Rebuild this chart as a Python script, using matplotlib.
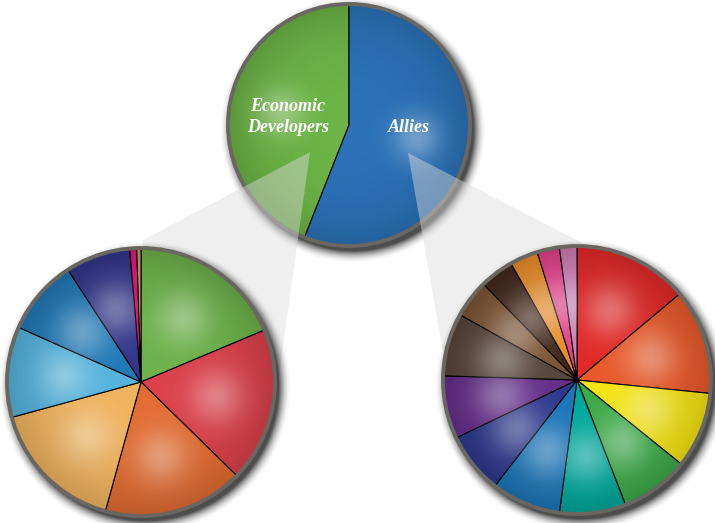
import numpy as np
import matplotlib
matplotlib.use("Agg")
import matplotlib.pyplot as plt
from matplotlib.patches import Circle, Polygon

# ---------------- data ----------------
top_labels = ["Economic\nDevelopers", "Allies"]
top_values = [44, 56]
top_colors = ["#6cb446", "#2b72b8"]

left_values = [18.6, 18.6, 16.9, 16.4, 10.9, 9.1, 7.8, 0.85, 0.5]
left_colors = ["#6db24c", "#dc424b", "#e26d34", "#f0b460", "#55b3dc",
               "#2179b6", "#343689", "#e3197f", "#c9a06d"]

right_values = [13.9, 12.7, 9.2, 8.3, 8.0, 8.4, 7.4, 7.6, 7.6, 4.6, 4.1, 3.4, 2.7, 2.1]
right_colors = ["#e12a28", "#e85a2b", "#f4e314", "#3daa49", "#00a89c", "#1c76b9",
                "#2f3a8c", "#652f8a", "#57463c", "#7d5434", "#43281b", "#e88d28",
                "#e5408b", "#cd7db3"]

# ---------------- layout ----------------
W, H = 715, 523
fig = plt.figure(figsize=(7.15, 5.23), dpi=100)
ax = fig.add_axes([0, 0, 1, 1])
ax.axis("off")

TOP = (349, 398, 121)
LEFT = (141, 141, 134)
RIGHT = (577, 143, 134)


def shadow(cx, cy, r, z, dx=4, dy=-5, blur=13, amp=0.7):
    ext = r + blur + 10
    n = 400
    xs = np.linspace(cx - ext, cx + ext, n)
    ys = np.linspace(cy - ext, cy + ext, n)
    X, Y = np.meshgrid(xs, ys)
    d = np.hypot(X - (cx + dx), Y - (cy + dy))
    a = amp * np.clip((r + blur - d) / blur, 0, 1) ** 2
    img = np.zeros((n, n, 4))
    img[..., 3] = a
    ax.imshow(img, extent=(cx - ext, cx + ext, cy - ext, cy + ext), origin="lower",
              zorder=z, interpolation="bilinear")


def gloss(wedges, cx, cy, r, z, frac=0.58, sigma=0.2, amp=0.35):
    n = 300
    xs = np.linspace(cx - r, cx + r, n)
    ys = np.linspace(cy - r, cy + r, n)
    X, Y = np.meshgrid(xs, ys)
    for w in wedges:
        if w.theta2 - w.theta1 < 5:
            continue
        th = np.deg2rad((w.theta1 + w.theta2) / 2)
        hx = cx + frac * r * np.cos(th)
        hy = cy + frac * r * np.sin(th)
        d2 = ((X - hx) ** 2 + (Y - hy) ** 2) / (sigma * r) ** 2
        img = np.ones((n, n, 4))
        img[..., 3] = amp * np.exp(-d2)
        im = ax.imshow(img, extent=(cx - r, cx + r, cy - r, cy + r), origin="lower",
                       zorder=z, interpolation="bilinear")
        im.set_clip_path(w)
    # darker rim
    d = np.hypot(X - cx, Y - cy) / r
    img = np.zeros((n, n, 4))
    img[..., 3] = 0.16 * np.clip(d, 0, 1) ** 3
    im = ax.imshow(img, extent=(cx - r, cx + r, cy - r, cy + r), origin="lower",
                   zorder=z, interpolation="bilinear")
    im.set_clip_path(Circle((cx, cy), r, transform=ax.transData))


def draw_pie(values, colors, spec, zbase, counterclock=False):
    cx, cy, r = spec
    shadow(cx, cy, r, zbase)
    wedges, _ = ax.pie(values, colors=colors, startangle=90, counterclock=counterclock,
                       center=(cx, cy), radius=r,
                       wedgeprops=dict(edgecolor="black", linewidth=0.8))
    for w in wedges:
        w.set_zorder(zbase + 1)
    gloss(wedges, cx, cy, r, zbase + 2)
    ax.add_patch(Circle((cx, cy), r, fill=False, ec="#6a6661", lw=2.8, zorder=zbase + 3))
    return wedges


# top pie
draw_pie(top_values, top_colors, TOP, 1, counterclock=True)

# connector bands
band_left = [(310, 371), (143, 283), (141, 141), (278, 141)]
band_right = [(408, 370), (592, 275), (577, 143), (448, 143)]
for pts in (band_left, band_right):
    ax.add_patch(Polygon(pts, closed=True, fc="#dcdcdc", ec="none", alpha=0.45, zorder=6))

# bottom pies
draw_pie(left_values, left_colors, LEFT, 10)
draw_pie(right_values, right_colors, RIGHT, 10)

# labels on the top pie
font = dict(family=["Liberation Serif", "DejaVu Serif"], style="italic", weight="bold",
            color="white", fontsize=13, ha="center", va="center", zorder=20)
ax.text(288, 406, top_labels[0], linespacing=1.3, **font)
ax.text(409, 395, top_labels[1], **font)

ax.set_xlim(0, W)
ax.set_ylim(0, H)
ax.set_aspect("auto")
fig.savefig("out.png", dpi=100)
